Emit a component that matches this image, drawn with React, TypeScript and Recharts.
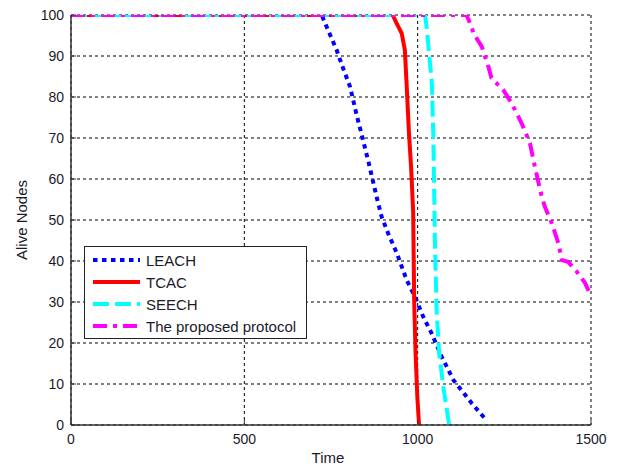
import React from 'react';
import { LineChart, Line, XAxis, YAxis, CartesianGrid, Legend } from 'recharts';

const xTicks = [0, 500, 1000, 1500];
const yTicks = [0, 10, 20, 30, 40, 50, 60, 70, 80, 90, 100];

const leachX = [0, 723, 733, 766, 785, 805, 824, 838, 858, 882, 896, 915, 940, 968, 992, 1016, 1040, 1069, 1103, 1156, 1200];
const leachY = [100, 100, 98, 91.5, 87, 82.5, 75.6, 71, 64.2, 55.5, 50.8, 46.7, 41.9, 35.4, 31.3, 26.4, 22.4, 16.7, 11, 5.3, 1];

const tcacX = [0, 928, 939, 954, 963, 968, 975, 981, 987, 990, 994, 999, 1004];
const tcacY = [100, 100, 98, 95.5, 91.5, 83.3, 71, 63, 52, 30, 17.5, 7, 0];

const seechX = [0, 1021, 1026, 1041, 1045, 1048, 1050, 1055, 1062, 1074, 1088, 1091];
const seechY = [100, 100, 97, 83.3, 71, 55.3, 43.5, 27.2, 17.5, 9.3, 1.6, 0];

const propX = [0, 1141, 1156, 1161, 1185, 1204, 1213, 1247, 1271, 1300, 1324, 1334, 1348, 1358, 1367, 1387, 1406, 1416, 1434, 1459, 1483, 1500];
const propY = [100, 100, 97, 95.5, 92.3, 87.4, 84.6, 81.7, 78.5, 73.6, 68.7, 64.6, 59.3, 55.7, 53.2, 49.2, 44.3, 40.2, 39.8, 37.4, 34.6, 31.5];

const seriesNames = ['LEACH', 'TCAC', 'SEECH', 'The proposed protocol'];

const toPoints = (xs: number[], ys: number[]) => xs.map((x, i) => ({ x, y: ys[i] }));

const FONT = '"Liberation Sans", Arial, Helvetica, sans-serif';

const series = [
  { name: seriesNames[0], data: toPoints(leachX, leachY), color: '#0000FF', dash: '4.5 4.5' },
  { name: seriesNames[1], data: toPoints(tcacX, tcacY), color: '#FF0000', dash: undefined },
  { name: seriesNames[2], data: toPoints(seechX, seechY), color: '#00FFFF', dash: '16 6' },
  { name: seriesNames[3], data: toPoints(propX, propY), color: '#FF00FF', dash: '14 6 4 6' },
];

const renderLegend = () => (
  <div
    style={{
      width: 223,
      height: 93,
      boxSizing: 'border-box',
      border: '1px solid #222',
      background: '#fff',
      fontFamily: FONT,
      fontSize: 15,
      color: '#1a1a2a',
      paddingTop: 2,
    }}
  >
    {series.map((s) => (
      <div key={s.name} style={{ display: 'flex', alignItems: 'center', height: 22 }}>
        <svg width={56} height={22} style={{ display: 'block' }}>
          <line x1={8} x2={55} y1={11} y2={11} stroke={s.color} strokeWidth={4} strokeDasharray={s.dash} />
        </svg>
        <span style={{ marginLeft: 5, whiteSpace: 'nowrap' }}>{s.name}</span>
      </div>
    ))}
  </div>
);

const tickStyle = { fontFamily: FONT, fontSize: 14, fill: '#1a1a2a' };

export default function App() {
  return (
    <div style={{ position: 'absolute', left: 0, top: 0, background: '#fff' }}>
      <LineChart width={617} height={466} margin={{ top: 15, right: 26, bottom: 0, left: 21 }}>
        <CartesianGrid stroke="#000" strokeDasharray="3 3" strokeWidth={1} />
        <XAxis
          type="number"
          dataKey="x"
          domain={[0, 1500]}
          ticks={xTicks}
          allowDataOverflow
          height={41}
          tick={tickStyle}
          tickSize={-5}
          tickMargin={14}
          tickLine={{ stroke: '#333' }}
          axisLine={{ stroke: '#333', strokeWidth: 1.5 }}
          label={{ value: 'Time', position: 'insideBottom', offset: 3, dx: -3, style: { fontFamily: FONT, fontSize: 15, fill: '#1a1a2a' } }}
        />
        <YAxis
          type="number"
          dataKey="y"
          domain={[0, 100]}
          ticks={yTicks}
          allowDataOverflow
          width={50}
          tick={tickStyle}
          tickSize={-5}
          tickMargin={12}
          tickLine={{ stroke: '#333' }}
          axisLine={{ stroke: '#333', strokeWidth: 1.5 }}
          label={{ value: 'Alive Nodes', angle: -90, position: 'insideLeft', offset: 1, style: { textAnchor: 'middle', fontFamily: FONT, fontSize: 15, fill: '#1a1a2a' } }}
        />
        <Legend
          layout="vertical"
          align="center"
          verticalAlign="middle"
          content={renderLegend}
          wrapperStyle={{ position: 'absolute', left: 84, top: 246, width: 223, height: 93 }}
        />
        {series.map((s) => (
          <Line
            key={s.name}
            name={s.name}
            data={s.data}
            dataKey="y"
            type="linear"
            stroke={s.color}
            strokeWidth={4}
            strokeDasharray={s.dash}
            dot={false}
            activeDot={false}
            isAnimationActive={false}
          />
        ))}
      </LineChart>
    </div>
  );
}
